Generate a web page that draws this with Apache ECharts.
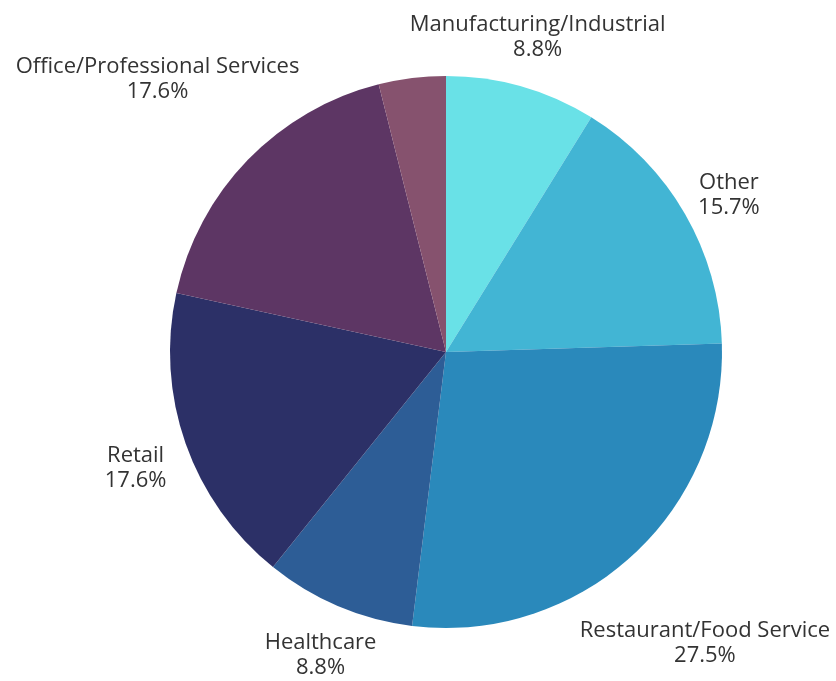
<!DOCTYPE html>
<html>
<head>
<meta charset="utf-8">
<script src="https://cdn.jsdelivr.net/npm/echarts@6/dist/echarts.min.js"></script>
<style>
  html, body { margin: 0; padding: 0; background: #ffffff; }
  #chart { width: 836px; height: 681px; }
</style>
</head>
<body>
<div id="chart"></div>
<script>
// Business categories, clockwise from 12 o'clock
const categories = [
  'Manufacturing/Industrial',
  'Other',
  'Restaurant/Food Service',
  'Healthcare',
  'Retail',
  'Office/Professional Services',
  'Unlabeled'
];
// Counts per category
const counts = [9, 16, 28, 9, 18, 18, 4];
// Slice colours
const colors = ['#69e1e7', '#42b5d4', '#2a89bb', '#2d5d96', '#2c3067', '#5d3664', '#86526e'];
// Categories whose label is shown
const showLabel = [true, true, true, true, true, true, false];

const CX = 446, CY = 352, R = 276, GAP = 24, TEXT_DROP = 7;
const total = counts.reduce((a, b) => a + b, 0);
const cumStart = [];
counts.reduce((acc, v, i) => { cumStart[i] = acc; return acc + v; }, 0);

const chart = echarts.init(document.getElementById('chart'), null, { renderer: 'canvas' });

chart.setOption({
  animation: false,
  series: [{
    type: 'pie',
    center: [CX, CY],
    radius: R,
    startAngle: 90,
    clockwise: true,
    avoidLabelOverlap: false,
    emphasis: { disabled: true },
    label: {
      show: true,
      position: 'outside',
      color: '#333333',
      fontFamily: 'Open Sans',
      fontSize: 22,
      lineHeight: 25,
      align: 'center',
      formatter: p => p.name + '\n' + (p.value / total * 100).toFixed(1) + '%'
    },
    labelLine: { show: false },
    // Place each label outside the rim along its slice's mid-angle,
    // pushed out by the label's horizontal half-extent in that direction
    labelLayout: function (params) {
      const i = params.dataIndex;
      const theta = (cumStart[i] + counts[i] / 2) / total * Math.PI * 2;
      const sx = Math.sin(theta), sy = -Math.cos(theta);
      const w = params.labelRect.width;
      const d = R + GAP + Math.abs(sx) * w / 2;
      return {
        x: CX + d * sx,
        y: CY + d * sy + TEXT_DROP,
        align: 'center',
        verticalAlign: 'middle'
      };
    },
    data: categories.map((name, i) => ({
      name: name,
      value: counts[i],
      itemStyle: { color: colors[i] },
      label: { show: showLabel[i] }
    }))
  }]
});
</script>
</body>
</html>
